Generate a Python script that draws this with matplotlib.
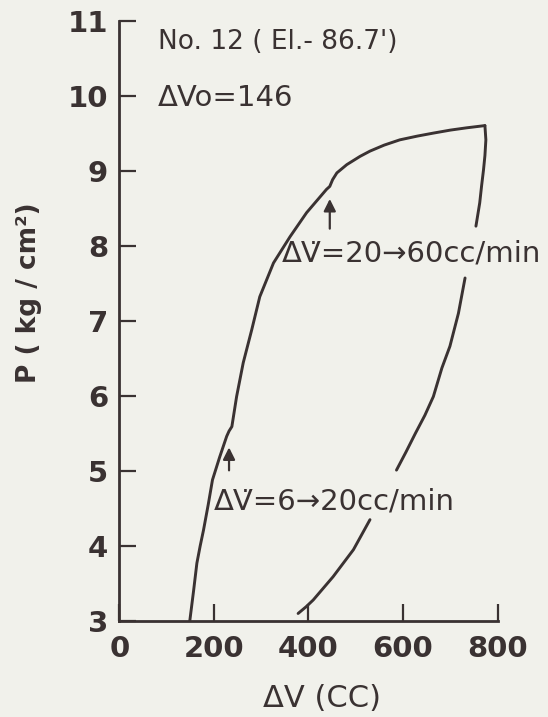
import numpy as np
import matplotlib
matplotlib.use("Agg")
import matplotlib.pyplot as plt

# Loading branch: pressure vs. injected volume
load_dv = [149, 153, 157, 164, 171, 178, 188, 197, 212, 227, 232, 238, 248, 262,
           280, 297, 326, 361, 396, 438, 445, 451, 460, 481, 509, 530, 560, 593,
           630, 664, 700, 734, 773]
load_p = [3.00, 3.20, 3.40, 3.77, 4.00, 4.21, 4.55, 4.88, 5.18, 5.46, 5.53, 5.59,
          5.99, 6.44, 6.88, 7.32, 7.77, 8.12, 8.44, 8.75, 8.79, 8.88, 8.97, 9.08,
          9.19, 9.26, 9.34, 9.41, 9.46, 9.50, 9.54, 9.57, 9.60]

# Unloading branch (broken where the rate labels sit)
unload_dv = [773, 775, 773, 770, 766, 762, 754, np.nan, 731, 717, 699, 682, 664,
             646, 626, 606, 586, np.nan, 530, 495, 452, 410, 395, 378]
unload_p = [9.60, 9.41, 9.20, 9.01, 8.80, 8.57, 8.26, np.nan, 7.57, 7.10, 6.66,
            6.37, 5.99, 5.74, 5.50, 5.25, 5.01, np.nan, 4.35, 3.95, 3.59, 3.28,
            3.19, 3.10]

x_ticks = [0, 200, 400, 600, 800]
y_ticks = [3, 4, 5, 6, 7, 8, 9, 10, 11]

bg = "#f1f1eb"
ink = "#3a3232"

plt.rcParams["font.family"] = ["DejaVu Sans"]

fig = plt.figure(figsize=(5.48, 7.17), dpi=100, facecolor=bg)
ax = fig.add_axes([0.2177, 0.1339, 0.6905, 0.8375], facecolor=bg)

ax.plot(load_dv, load_p, color=ink, lw=2.1, solid_capstyle="round",
        solid_joinstyle="round")
ax.plot(unload_dv, unload_p, color=ink, lw=2.1, solid_capstyle="round",
        solid_joinstyle="round")

ax.set_xlim(0, 800)
ax.set_ylim(3, 11)
ax.set_xticks(x_ticks)
ax.set_yticks(y_ticks)
ax.set_xticklabels([str(v) for v in x_ticks], fontsize=21, fontweight="bold", color=ink)
ax.set_yticklabels([str(v) for v in y_ticks], fontsize=21, fontweight="bold", color=ink)
ax.tick_params(direction="in", length=12, width=1.6, color=ink, pad=8)
ax.tick_params(axis="x", pad=10)
for side in ("top", "right"):
    ax.spines[side].set_visible(False)
for side in ("left", "bottom"):
    ax.spines[side].set_linewidth(2.0)
    ax.spines[side].set_color(ink)

ax.set_xlabel("ΔV (CC)", fontsize=22, color=ink)
ax.xaxis.set_label_coords(0.535, -0.105)
ax.set_ylabel("P ( kg / cm²)", fontsize=19, fontweight="bold", color=ink)
ax.yaxis.set_label_coords(-0.205, 0.547)

ax.text(82, 10.71, "No. 12 ( El.- 86.7')", fontsize=19, color=ink, va="center")
ax.text(82, 9.97, "ΔVo=146", fontsize=21, color=ink, va="center")

ax.text(343, 7.89, "ΔV̇=20→60cc/min", fontsize=21, color=ink, va="center")
ax.text(199, 4.59, "ΔV̇=6→20cc/min", fontsize=21, color=ink, va="center")

arrow = dict(arrowstyle="-|>", color=ink, lw=1.6, mutation_scale=18)
ax.annotate("", xy=(445, 8.66), xytext=(445, 8.19), arrowprops=arrow)
ax.annotate("", xy=(232, 5.35), xytext=(232, 4.97), arrowprops=arrow)

fig.savefig("out.png", dpi=100, facecolor=bg)
